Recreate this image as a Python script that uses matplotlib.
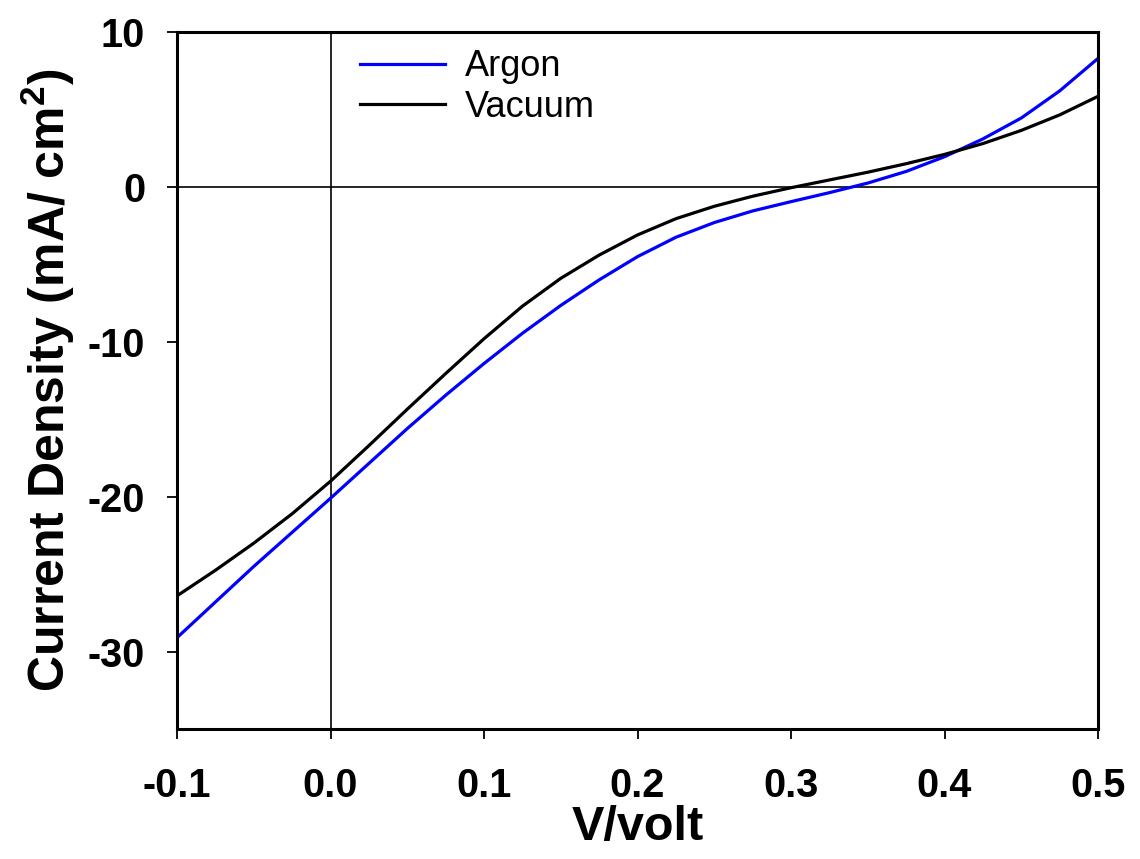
import matplotlib
matplotlib.use('Agg')
import matplotlib.pyplot as plt
import numpy as np

plt.rcParams['font.family'] = ['Liberation Sans', 'DejaVu Sans']
plt.rcParams['axes.unicode_minus'] = False
plt.rcParams['mathtext.fontset'] = 'custom'
plt.rcParams['mathtext.rm'] = 'Liberation Sans:bold'
plt.rcParams['mathtext.bf'] = 'Liberation Sans:bold'
plt.rcParams['mathtext.default'] = 'bf'

# J-V data
voltage = [-0.1, -0.075, -0.05, -0.025, 0.0, 0.025, 0.05, 0.075, 0.1, 0.125, 0.15, 0.175,
           0.2, 0.225, 0.25, 0.275, 0.3, 0.325, 0.35, 0.375, 0.4, 0.425, 0.45, 0.475, 0.5]
argon = [-29.1, -26.8, -24.5, -22.3, -20.1, -17.85, -15.6, -13.45, -11.4, -9.45, -7.65, -6.0,
         -4.5, -3.25, -2.3, -1.55, -0.95, -0.37, 0.25, 1.0, 1.95, 3.1, 4.45, 6.2, 8.3]
vacuum = [-26.4, -24.75, -23.0, -21.1, -19.0, -16.7, -14.35, -12.05, -9.8, -7.7, -5.9, -4.4,
          -3.1, -2.05, -1.25, -0.6, -0.05, 0.45, 0.95, 1.5, 2.1, 2.8, 3.65, 4.65, 5.85]

fig = plt.figure(figsize=(11.4, 8.59), dpi=100)
ax = fig.add_axes([0.1553, 0.1513, 0.8079, 0.8114])

ax.axhline(0, color='black', lw=1.2, zorder=1)
ax.axvline(0, color='black', lw=1.2, zorder=1)

ax.plot(voltage, argon, color='#0000FF', lw=2.3, label='Argon', solid_joinstyle='round')
ax.plot(voltage, vacuum, color='black', lw=2.3, label='Vacuum', solid_joinstyle='round')

ax.set_xlim(-0.1, 0.5)
ax.set_ylim(-35, 10)
ax.set_xticks([-0.1, 0.0, 0.1, 0.2, 0.3, 0.4, 0.5])
ax.set_xticklabels(['-0.1', '0.0', '0.1', '0.2', '0.3', '0.4', '0.5'])
ax.set_yticks([-30, -20, -10, 0, 10])

for sp in ax.spines.values():
    sp.set_linewidth(2.2)

ax.tick_params(direction='out', length=7, width=1.3, labelsize=28.5)
ax.tick_params(axis='x', pad=20)
ax.tick_params(axis='y', pad=16)
for lbl in ax.get_xticklabels() + ax.get_yticklabels():
    lbl.set_fontweight('bold')

ax.set_xlabel('V/volt', fontsize=35, fontweight='bold', labelpad=0)
ax.set_ylabel(r'Current Density (mA/ cm$^{2}$)', fontsize=36, fontweight='bold', labelpad=8)

ax.legend(loc='upper left', bbox_to_anchor=(0.199, 0.975), frameon=False, fontsize=26,
          handlelength=2.35, handletextpad=0.55, labelspacing=0.15, borderpad=0, borderaxespad=0)

fig.savefig('out.png', dpi=100, facecolor='white')
